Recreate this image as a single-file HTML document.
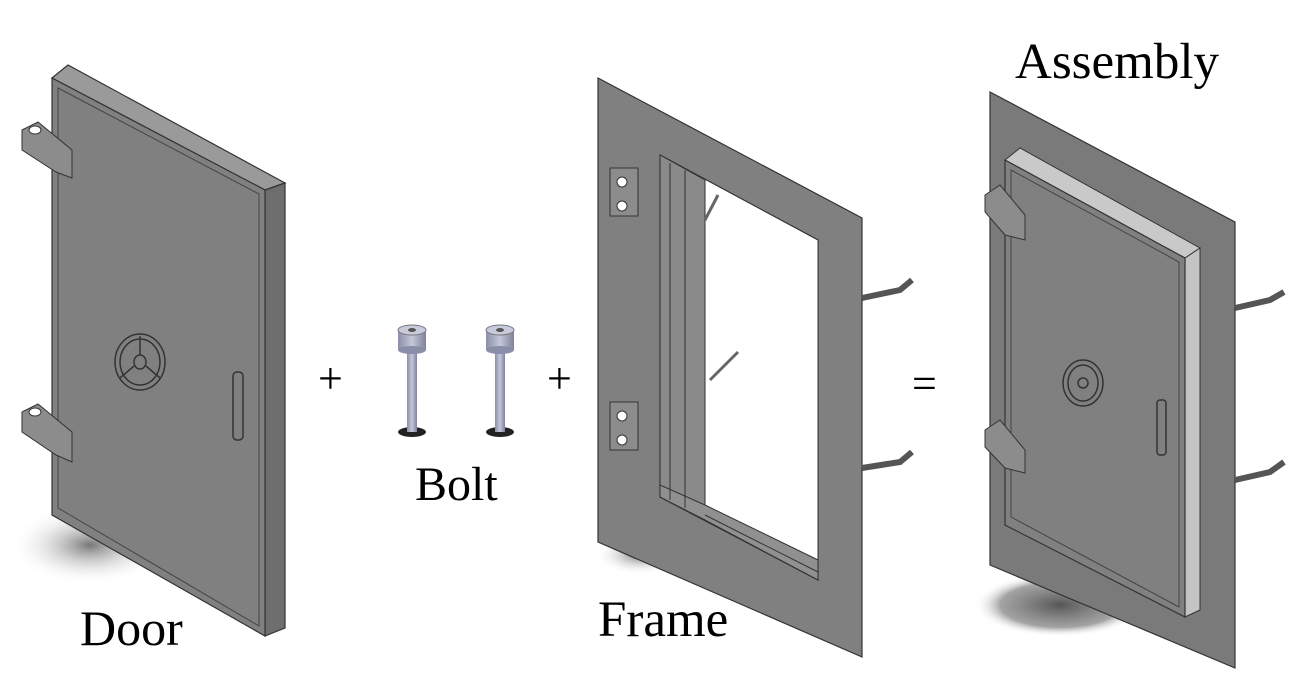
<!DOCTYPE html>
<html><head><meta charset="utf-8"><style>
html,body{margin:0;padding:0;background:#fff;}
svg{display:block;}
text{font-family:"Liberation Serif",serif;fill:#000;}
</style></head><body>
<svg width="1292" height="687" viewBox="0 0 1292 687">
<defs>
<radialGradient id="sh" cx="0.5" cy="0.5" r="0.5"><stop offset="0" stop-color="#555" stop-opacity="0.8"/><stop offset="1" stop-color="#fff" stop-opacity="0"/></radialGradient>
<radialGradient id="sh2" cx="0.5" cy="0.5" r="0.5"><stop offset="0" stop-color="#444" stop-opacity="0.9"/><stop offset="0.7" stop-color="#666" stop-opacity="0.6"/><stop offset="1" stop-color="#fff" stop-opacity="0"/></radialGradient>
<linearGradient id="boltg" x1="0" x2="1"><stop offset="0" stop-color="#8a8ea8"/><stop offset="0.5" stop-color="#c5c8da"/><stop offset="1" stop-color="#7d8199"/></linearGradient>
</defs>

<!-- DOOR -->
<g>
<ellipse cx="90" cy="545" rx="80" ry="40" fill="url(#sh)"/>
<polygon points="52,78 68,65 285,183 265,190" fill="#9a9a9a" stroke="#333" stroke-width="1.2"/>
<polygon points="265,190 285,183 285,628 265,636" fill="#6e6e6e" stroke="#333" stroke-width="1.2"/>
<polygon points="52,78 265,190 265,636 52,515" fill="#808080" stroke="#333" stroke-width="1.2"/>
<polygon points="58,88 259,194 259,626 58,508" fill="none" stroke="#444" stroke-width="1"/>
<g>
<polygon points="22,130 38,122 72,150 72,178 56,172 22,150" fill="#8c8c8c" stroke="#333"/>
<ellipse cx="35" cy="130" rx="6" ry="4" fill="#fff" stroke="#333"/></g>
<g>
<polygon points="22,412 38,404 72,432 72,462 56,455 22,432" fill="#8c8c8c" stroke="#333"/>
<ellipse cx="35" cy="412" rx="6" ry="4" fill="#fff" stroke="#333"/></g>
<g fill="none" stroke="#333" stroke-width="1.5">
<ellipse cx="140" cy="362" rx="25" ry="28"/><ellipse cx="140" cy="362" rx="20" ry="23"/>
<ellipse cx="140" cy="362" rx="6" ry="7"/>
<line x1="140" y1="355" x2="140" y2="336"/><line x1="134" y1="366" x2="120" y2="378"/><line x1="146" y1="366" x2="160" y2="378"/></g>
<rect x="233" y="372" width="10" height="68" rx="4" fill="none" stroke="#333" stroke-width="1.5"/>
</g>
<text x="80" y="645" font-size="50">Door</text>

<text x="318" y="393" font-size="44">+</text>

<!-- BOLTS -->
<g>
<ellipse cx="412" cy="432" rx="14" ry="5" fill="#222"/>
<rect x="407" y="345" width="10" height="87" fill="url(#boltg)"/>
<rect x="398" y="330" width="28" height="20" fill="url(#boltg)"/>
<ellipse cx="412" cy="350" rx="14" ry="4" fill="#8a8ea8"/>
<ellipse cx="412" cy="330" rx="14" ry="5" fill="#c8cbdc" stroke="#777"/>
<ellipse cx="412" cy="330" rx="4" ry="2" fill="#555"/></g>
<g>
<ellipse cx="500" cy="432" rx="14" ry="5" fill="#222"/>
<rect x="495" y="345" width="10" height="87" fill="url(#boltg)"/>
<rect x="486" y="330" width="28" height="20" fill="url(#boltg)"/>
<ellipse cx="500" cy="350" rx="14" ry="4" fill="#8a8ea8"/>
<ellipse cx="500" cy="330" rx="14" ry="5" fill="#c8cbdc" stroke="#777"/>
<ellipse cx="500" cy="330" rx="4" ry="2" fill="#555"/></g>
<text x="415" y="500" font-size="48">Bolt</text>

<text x="547" y="393" font-size="44">+</text>

<!-- FRAME -->
<g>
<ellipse cx="640" cy="555" rx="45" ry="20" fill="url(#sh)"/>
<path d="M598,78 L862,218 L862,657 L598,542 Z M660,155 L818,240 L818,580 L660,497 Z" fill="#808080" fill-rule="evenodd" stroke="#333" stroke-width="1.2"/>
<polygon points="660,155 818,240 818,580 660,497" fill="#fff" stroke="#333"/>
<polygon points="660,155 705,180 705,520 660,497" fill="#8a8a8a" stroke="#333"/>
<polygon points="660,497 705,520 818,580 818,560 705,505 660,485" fill="#909090" stroke="#333"/>
<line x1="670" y1="163" x2="670" y2="500" stroke="#333"/>
<line x1="685" y1="170" x2="685" y2="508" stroke="#333"/>
<line x1="705" y1="515" x2="818" y2="572" stroke="#333"/>
<polyline points="705,220 718,195" fill="none" stroke="#666" stroke-width="3"/>
<polyline points="710,380 738,352" fill="none" stroke="#666" stroke-width="3"/>
<g><rect x="610" y="168" width="28" height="48" fill="#8c8c8c" stroke="#333"/><circle cx="622" cy="182" r="5" fill="#fff" stroke="#333"/><circle cx="622" cy="206" r="5" fill="#fff" stroke="#333"/></g>
<g><rect x="610" y="402" width="28" height="48" fill="#8c8c8c" stroke="#333"/><circle cx="622" cy="416" r="5" fill="#fff" stroke="#333"/><circle cx="622" cy="440" r="5" fill="#fff" stroke="#333"/></g>
<polyline points="862,298 900,290 912,280" fill="none" stroke="#555" stroke-width="6"/>
<polyline points="862,468 900,462 912,452" fill="none" stroke="#555" stroke-width="6"/>
</g>
<text x="598" y="636" font-size="51">Frame</text>

<text x="912" y="398" font-size="44">=</text>

<!-- ASSEMBLY -->
<g>
<ellipse cx="1060" cy="605" rx="85" ry="32" fill="url(#sh2)"/>
<polygon points="990,92 1235,222 1235,668 990,565" fill="#7a7a7a" stroke="#333" stroke-width="1.2"/>
<polyline points="1235,308 1270,300 1284,292" fill="none" stroke="#555" stroke-width="6"/>
<polyline points="1235,480 1270,472 1284,462" fill="none" stroke="#555" stroke-width="6"/>
<polygon points="1005,160 1020,148 1200,248 1185,258" fill="#c9c9c9" stroke="#333"/>
<polygon points="1185,258 1200,248 1200,610 1185,617" fill="#c4c4c4" stroke="#333"/>
<polygon points="1005,160 1185,258 1185,617 1005,525" fill="#808080" stroke="#333" stroke-width="1.2"/>
<polygon points="1011,170 1179,262 1179,607 1011,517" fill="none" stroke="#444"/>
<g fill="none" stroke="#333" stroke-width="1.5"><ellipse cx="1083" cy="383" rx="20" ry="23"/><ellipse cx="1083" cy="383" rx="15" ry="18"/><ellipse cx="1083" cy="383" rx="5" ry="5"/></g>
<rect x="1157" y="400" width="9" height="55" rx="3" fill="none" stroke="#333" stroke-width="1.5"/>
<polygon points="985,195 1000,185 1025,215 1025,240 1005,235 985,212" fill="#8c8c8c" stroke="#333"/>
<polygon points="985,430 1000,420 1025,450 1025,473 1005,468 985,447" fill="#8c8c8c" stroke="#333"/>
</g>
<text x="1015" y="78" font-size="51">Assembly</text>
</svg>
</body></html>
